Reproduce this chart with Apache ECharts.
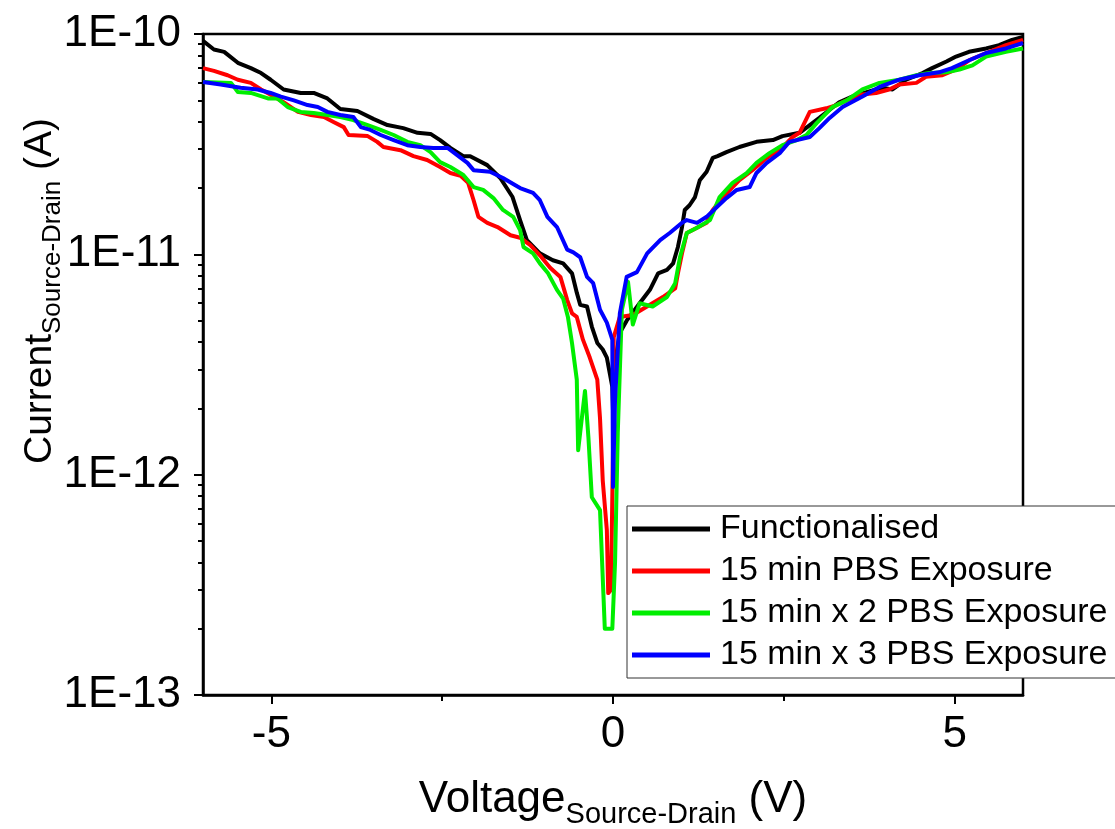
<!DOCTYPE html>
<html><head><meta charset="utf-8">
<script src="https://cdn.jsdelivr.net/npm/echarts@6/dist/echarts.min.js"></script>
<style>html,body{margin:0;padding:0;background:#fff}#c{width:1115px;height:829px}</style>
</head><body><div id="c"></div>
<script>
// ---- data (voltage V, current A) ----
const seriesNames = ['Functionalised', '15 min PBS Exposure', '15 min x 2 PBS Exposure', '15 min x 3 PBS Exposure'];
const xTickValues = [-5, 0, 5];
const xMinorTickValues = [-2.5, 2.5];
const yDecades = [-13, -12, -11, -10];

const functionalised = [[-6.0,9.3e-11],[-5.84,8.5e-11],[-5.69,8.3e-11],[-5.49,7.4e-11],[-5.30,7.0e-11],[-5.15,6.65e-11],[-5.01,6.2e-11],[-4.82,5.6e-11],[-4.57,5.4e-11],[-4.38,5.4e-11],[-4.18,5.1e-11],[-3.99,4.57e-11],[-3.74,4.47e-11],[-3.50,4.11e-11],[-3.30,3.86e-11],[-3.07,3.74e-11],[-2.86,3.56e-11],[-2.67,3.52e-11],[-2.53,3.30e-11],[-2.38,3.04e-11],[-2.19,2.79e-11],[-2.09,2.79e-11],[-1.84,2.54e-11],[-1.65,2.22e-11],[-1.47,1.82e-11],[-1.36,1.43e-11],[-1.26,1.16e-11],[-1.07,1.01e-11],[-0.88,9.4e-12],[-0.73,9.1e-12],[-0.60,8.2e-12],[-0.53,6.7e-12],[-0.48,5.9e-12],[-0.38,5.8e-12],[-0.31,4.7e-12],[-0.23,3.96e-12],[-0.15,3.7e-12],[-0.09,3.4e-12],[-0.01,2.5e-12],[0.0,1.96e-12],[0.06,3.7e-12],[0.10,4.4e-12],[0.20,5.0e-12],[0.39,6.0e-12],[0.54,6.9e-12],[0.66,8.2e-12],[0.79,8.5e-12],[0.88,9.1e-12],[0.95,1.08e-11],[1.01,1.33e-11],[1.05,1.59e-11],[1.12,1.67e-11],[1.20,1.82e-11],[1.27,2.17e-11],[1.37,2.37e-11],[1.46,2.74e-11],[1.53,2.79e-11],[1.66,2.91e-11],[1.85,3.07e-11],[2.10,3.24e-11],[2.34,3.30e-11],[2.48,3.44e-11],[2.73,3.56e-11],[3.02,4.16e-11],[3.31,4.9e-11],[3.50,5.2e-11],[3.71,5.45e-11],[3.94,5.7e-11],[4.09,5.6e-11],[4.29,6.2e-11],[4.53,6.65e-11],[4.67,7.0e-11],[4.88,7.5e-11],[5.02,7.9e-11],[5.21,8.3e-11],[5.46,8.6e-11],[5.65,8.9e-11],[5.84,9.4e-11],[6.0,9.7e-11]];

const pbs15 = [[-6.0,7.0e-11],[-5.84,6.8e-11],[-5.64,6.5e-11],[-5.49,6.2e-11],[-5.30,6.0e-11],[-5.15,5.6e-11],[-5.01,5.3e-11],[-4.82,4.9e-11],[-4.61,4.43e-11],[-4.42,4.29e-11],[-4.23,4.2e-11],[-4.09,3.99e-11],[-3.94,3.78e-11],[-3.87,3.48e-11],[-3.59,3.44e-11],[-3.45,3.24e-11],[-3.36,3.07e-11],[-3.11,2.97e-11],[-2.92,2.79e-11],[-2.72,2.68e-11],[-2.53,2.49e-11],[-2.38,2.34e-11],[-2.23,2.27e-11],[-2.12,2.11e-11],[-2.04,1.76e-11],[-1.97,1.48e-11],[-1.84,1.39e-11],[-1.69,1.33e-11],[-1.50,1.22e-11],[-1.36,1.19e-11],[-1.21,1.10e-11],[-1.07,9.9e-12],[-0.92,8.7e-12],[-0.77,7.9e-12],[-0.67,6.2e-12],[-0.60,5.4e-12],[-0.53,5.2e-12],[-0.44,4.1e-12],[-0.34,3.4e-12],[-0.23,2.7e-12],[-0.19,1.8e-12],[-0.15,9.4e-13],[-0.09,5.6e-13],[-0.07,2.9e-13],[-0.03,3.0e-13],[0.0,1.29e-12],[0.01,4.2e-12],[0.10,5.2e-12],[0.29,5.3e-12],[0.54,5.9e-12],[0.73,6.4e-12],[0.91,7.0e-12],[0.95,8.2e-12],[1.01,1.01e-11],[1.08,1.25e-11],[1.23,1.32e-11],[1.37,1.39e-11],[1.46,1.59e-11],[1.61,1.82e-11],[1.85,2.17e-11],[2.04,2.41e-11],[2.25,2.74e-11],[2.44,2.97e-11],[2.63,3.41e-11],[2.73,3.56e-11],[2.88,4.43e-11],[3.12,4.6e-11],[3.27,4.76e-11],[3.42,5.0e-11],[3.61,5.3e-11],[3.85,5.4e-11],[4.04,5.6e-11],[4.19,5.9e-11],[4.44,6.0e-11],[4.58,6.4e-11],[4.82,6.5e-11],[5.02,6.9e-11],[5.21,7.6e-11],[5.46,8.2e-11],[5.75,8.9e-11],[6.0,9.4e-11]];

const pbs15x2 = [[-6.0,6.05e-11],[-5.59,6.0e-11],[-5.49,5.45e-11],[-5.30,5.4e-11],[-5.05,5.1e-11],[-4.91,5.1e-11],[-4.76,4.66e-11],[-4.57,4.43e-11],[-4.38,4.38e-11],[-4.18,4.29e-11],[-3.99,4.2e-11],[-3.80,4.07e-11],[-3.59,3.86e-11],[-3.40,3.67e-11],[-3.21,3.48e-11],[-3.01,3.24e-11],[-2.82,3.13e-11],[-2.67,2.91e-11],[-2.53,2.62e-11],[-2.38,2.49e-11],[-2.19,2.29e-11],[-2.04,2.02e-11],[-1.90,1.96e-11],[-1.75,1.80e-11],[-1.61,1.59e-11],[-1.46,1.48e-11],[-1.36,1.29e-11],[-1.31,1.08e-11],[-1.17,1.01e-11],[-1.07,9.1e-12],[-0.95,8.2e-12],[-0.82,6.9e-12],[-0.73,6.3e-12],[-0.66,5.2e-12],[-0.60,3.96e-12],[-0.53,2.7e-12],[-0.51,1.29e-12],[-0.41,2.4e-12],[-0.36,1.48e-12],[-0.31,7.9e-13],[-0.19,6.9e-13],[-0.12,2.0e-13],[-0.01,2.0e-13],[0.03,4.0e-13],[0.07,1.55e-12],[0.13,5.6e-12],[0.22,7.5e-12],[0.29,4.8e-12],[0.39,6.0e-12],[0.58,5.8e-12],[0.79,6.4e-12],[0.91,7.4e-12],[0.98,9.7e-12],[1.08,1.25e-11],[1.23,1.32e-11],[1.42,1.43e-11],[1.56,1.82e-11],[1.75,2.11e-11],[1.96,2.34e-11],[2.10,2.60e-11],[2.29,2.88e-11],[2.48,3.13e-11],[2.69,3.30e-11],[2.83,3.48e-11],[2.98,3.94e-11],[3.21,4.66e-11],[3.42,5.0e-11],[3.65,5.6e-11],[3.90,6.0e-11],[4.19,6.2e-11],[4.44,6.5e-11],[4.63,6.65e-11],[4.88,6.7e-11],[5.07,6.9e-11],[5.26,7.2e-11],[5.46,7.9e-11],[5.75,8.3e-11],[6.0,8.6e-11]];

const pbs15x3 = [[-6.0,6.05e-11],[-5.74,5.9e-11],[-5.45,5.7e-11],[-5.20,5.6e-11],[-5.01,5.4e-11],[-4.86,5.2e-11],[-4.67,5.0e-11],[-4.47,4.76e-11],[-4.32,4.66e-11],[-4.18,4.43e-11],[-3.99,4.29e-11],[-3.80,4.2e-11],[-3.69,3.78e-11],[-3.55,3.67e-11],[-3.40,3.48e-11],[-3.21,3.30e-11],[-3.01,3.13e-11],[-2.82,3.07e-11],[-2.63,3.04e-11],[-2.42,3.04e-11],[-2.28,2.82e-11],[-2.13,2.60e-11],[-2.04,2.41e-11],[-1.80,2.37e-11],[-1.61,2.22e-11],[-1.36,2.0e-11],[-1.17,1.90e-11],[-1.07,1.76e-11],[-0.96,1.48e-11],[-0.82,1.33e-11],[-0.67,1.05e-11],[-0.58,1.02e-11],[-0.48,9.7e-12],[-0.38,7.9e-12],[-0.29,7.4e-12],[-0.19,5.6e-12],[-0.09,4.9e-12],[-0.01,4.1e-12],[0.0,8.8e-13],[0.03,2.2e-12],[0.10,5.4e-12],[0.20,7.9e-12],[0.35,8.3e-12],[0.50,1.01e-11],[0.69,1.16e-11],[0.83,1.25e-11],[1.01,1.39e-11],[1.08,1.43e-11],[1.23,1.39e-11],[1.37,1.48e-11],[1.52,1.64e-11],[1.66,1.80e-11],[1.81,1.96e-11],[2.0,2.02e-11],[2.10,2.34e-11],[2.25,2.60e-11],[2.44,2.88e-11],[2.58,3.24e-11],[2.88,3.41e-11],[3.02,3.74e-11],[3.17,4.16e-11],[3.36,4.66e-11],[3.65,5.2e-11],[3.90,5.75e-11],[4.19,6.2e-11],[4.48,6.5e-11],[4.77,6.7e-11],[4.96,7.0e-11],[5.17,7.5e-11],[5.46,8.2e-11],[5.75,8.6e-11],[6.0,9.1e-11]];

// ---- styling ----
const seriesData = [functionalised, pbs15, pbs15x2, pbs15x3];
const colors = ['#000000', '#ff0000', '#00ee00', '#0000ff'];
const FONT = '"Liberation Sans", Arial, sans-serif';

// log-spaced minor tick positions (2..9 in each decade), as log10 values
const yMinorTicks = [];
for (let d = yDecades[0]; d < yDecades[yDecades.length - 1]; d++) for (let m = 2; m <= 9; m++) yMinorTicks.push(d + Math.log10(m));

const chart = echarts.init(document.getElementById('c'), null, {renderer: 'canvas'});
chart.setOption({
  animation: false,
  backgroundColor: '#fff',
  grid: {left: 203, right: 92, top: 34, bottom: 134, show: true, borderColor: '#000', borderWidth: 2.5, outerBoundsMode: 'none'},
  xAxis: [
    {
      type: 'value', min: -6, max: 6,
      axisLine: {onZero: false, lineStyle: {color: '#000', width: 2.5}},
      axisTick: {customValues: xTickValues, length: 9, lineStyle: {color: '#000', width: 2}},
      axisLabel: {customValues: xTickValues, fontSize: 44, fontFamily: FONT, color: '#000', margin: 18},
      splitLine: {show: false}
    },
    {
      type: 'value', min: -6, max: 6, position: 'bottom', gridIndex: 0,
      axisLine: {show: false, onZero: false},
      axisTick: {customValues: xMinorTickValues, length: 6, lineStyle: {color: '#000', width: 2}},
      axisLabel: {show: false},
      splitLine: {show: false}
    }
  ],
  yAxis: [
    {
      type: 'log', logBase: 10, min: 1e-13, max: 1e-10,
      axisLine: {show: true, onZero: false, lineStyle: {color: '#000', width: 2.5}},
      axisTick: {show: true, length: 9, lineStyle: {color: '#000', width: 2}},
      axisLabel: {fontSize: 44, fontFamily: FONT, color: '#000', margin: 22,
        formatter: v => '1E' + Math.round(Math.log10(v))},
      splitLine: {show: false}
    },
    {
      type: 'value', min: yDecades[0], max: yDecades[yDecades.length - 1], position: 'left', gridIndex: 0,
      axisLine: {show: false, onZero: false},
      axisTick: {show: true, customValues: yMinorTicks, length: 5, lineStyle: {color: '#000', width: 2}},
      axisLabel: {show: false},
      splitLine: {show: false}
    }
  ],
  legend: {
    orient: 'vertical', left: 627, top: 506,
    data: seriesNames, icon: 'rect', itemWidth: 78, itemHeight: 5, itemGap: 8,
    padding: [6, 10, 6, 5], borderColor: '#333', borderWidth: 1, backgroundColor: '#fff',
    selectedMode: false,
    textStyle: {fontSize: 34, fontFamily: FONT, color: '#000', lineHeight: 34, padding: [0, 0, 0, 5]}
  },
  graphic: [
    {
      type: 'text', x: 613, y: 800, z: 10,
      style: {
        text: '{m|Voltage}{s|Source-Drain}{m| (V)}',
        align: 'center', verticalAlign: 'middle',
        rich: {
          m: {fontSize: 44, fontFamily: FONT, fill: '#000', lineHeight: 48},
          s: {fontSize: 29, fontFamily: FONT, fill: '#000', lineHeight: 29, padding: [29, 0, 0, 0]}
        }
      }
    },
    {
      type: 'text', x: 40, y: 291, rotation: Math.PI / 2, z: 10,
      style: {
        text: '{m|Current}{s|Source-Drain}{m| (A)}',
        align: 'center', verticalAlign: 'middle',
        rich: {
          m: {fontSize: 39, fontFamily: FONT, fill: '#000', lineHeight: 42},
          s: {fontSize: 26, fontFamily: FONT, fill: '#000', lineHeight: 26, padding: [26, 0, 0, 0]}
        }
      }
    }
  ],
  series: seriesNames.map((name, i) => ({
    name, type: 'line', xAxisIndex: 0, yAxisIndex: 0,
    data: seriesData[i], showSymbol: false, symbol: 'none',
    color: colors[i],
    lineStyle: {color: colors[i], width: 4, join: 'round'},
    z: 2 + i
  }))
});
</script></body></html>
